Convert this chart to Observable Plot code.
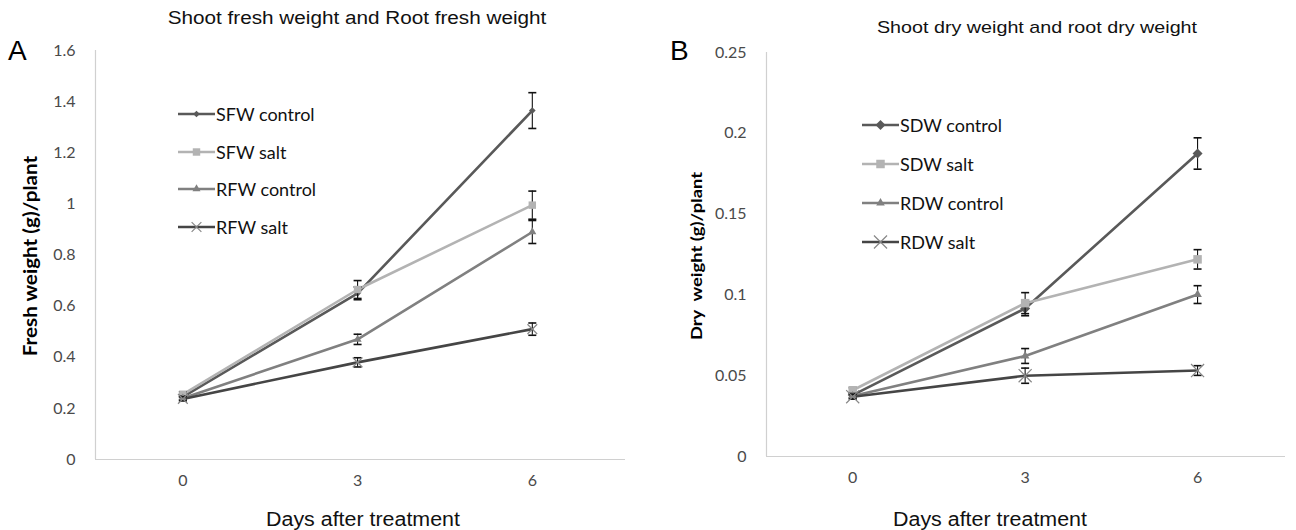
<!DOCTYPE html>
<html>
<head>
<meta charset="utf-8">
<script src="https://cdn.jsdelivr.net/npm/d3@7"></script>
<script src="https://cdn.jsdelivr.net/npm/@observablehq/plot@0.6"></script>
<style>
  body { margin: 0; background: #fff; }
  #root { position: relative; width: 1296px; height: 530px; overflow: hidden; background: #fff; }
  .panel { position: absolute; top: 0; }
  .abs { position: absolute; white-space: nowrap; }
  .title { font-family: "Liberation Sans", Arial, sans-serif; color: #111; }
  .letter { font-family: "Liberation Sans", Arial, sans-serif; font-size: 28px; color: #000; }
  .xlab { font-family: "Liberation Sans", Arial, sans-serif; font-size: 20px; color: #111; transform: translateX(-50%) scaleX(1.07); }
  .ylab { font-family: "Lato", "Open Sans", sans-serif; font-weight: bold; color: #000; }
  .leg { font-family: "Lato", "Open Sans", sans-serif; font-size: 18px; color: #111; display: flex; align-items: center; }
</style>
</head>
<body>
<div id="root"></div>
<script>
// ---- Data ----
const days = [0, 3, 6];
const xTicks = [0, 3, 6];

// Panel A: fresh weight (g)/plant
const seriesA = ["SFW control", "SFW salt", "RFW control", "RFW salt"];
const sfwControl = [0.245, 0.65, 1.365];
const sfwControlErr = [0.01, 0.025, 0.07];
const sfwSalt = [0.255, 0.665, 0.995];
const sfwSaltErr = [0.01, 0.035, 0.055];
const rfwControl = [0.24, 0.47, 0.89];
const rfwControlErr = [0.008, 0.02, 0.045];
const rfwSalt = [0.237, 0.38, 0.51];
const rfwSaltErr = [0.008, 0.018, 0.024];
const yTicksA = [0, 0.2, 0.4, 0.6, 0.8, 1, 1.2, 1.4, 1.6];

// Panel B: dry weight (g)/plant
const seriesB = ["SDW control", "SDW salt", "RDW control", "RDW salt"];
const sdwControl = [0.038, 0.0916, 0.1875];
const sdwControlErr = [0.0015, 0.0045, 0.0097];
const sdwSalt = [0.041, 0.0949, 0.122];
const sdwSaltErr = [0.0015, 0.0065, 0.006];
const rdwControl = [0.0375, 0.0622, 0.1002];
const rdwControlErr = [0.0015, 0.0046, 0.0055];
const rdwSalt = [0.037, 0.050, 0.0532];
const rdwSaltErr = [0.0015, 0.0047, 0.003];
const yTicksB = [0, 0.05, 0.1, 0.15, 0.2, 0.25];

// ---- Styles ----
const colorsA = ["#595959", "#b3b3b3", "#808080", "#454545"];
const symbols = ["diamond2", "square", "triangle", "times"];

function rows(names, vals, errs) {
  const out = [];
  names.forEach((s, i) => days.forEach((d, j) => out.push({series: s, day: d, v: vals[i][j], lo: vals[i][j] - errs[i][j], hi: vals[i][j] + errs[i][j]})));
  return out;
}

const capSymbol = {draw(ctx, size) { const w = 4; ctx.moveTo(-w, 0); ctx.lineTo(w, 0); }};

function panel(opts) {
  const data = rows(opts.series, opts.vals, opts.errs);
  const marks = [
    Plot.ruleY([0], {stroke: "#d0d0d0", strokeWidth: 1.2}),
    Plot.ruleX([opts.xdomain[0]], {stroke: "#d0d0d0", strokeWidth: 1.2}),
  ];
  opts.series.forEach((s, i) => {
    const d = data.filter(r => r.series === s);
    marks.push(Plot.line(d, {x: "day", y: "v", stroke: opts.colors[i], strokeWidth: 2.6}));
  });
  opts.series.forEach((s, i) => {
    const d = data.filter(r => r.series === s);
    marks.push(Plot.ruleX(d, {x: "day", y1: "lo", y2: "hi", stroke: "#111", strokeWidth: 1.1}));
    marks.push(Plot.dot(d, {x: "day", y: "lo", symbol: capSymbol, stroke: "#111", strokeWidth: 1.6, r: 3}));
    marks.push(Plot.dot(d, {x: "day", y: "hi", symbol: capSymbol, stroke: "#111", strokeWidth: 1.6, r: 3}));
    const sym = symbols[i];
    const isStroke = sym === "times";
    marks.push(Plot.dot(d, {x: "day", y: "v", symbol: sym, r: opts.sizes[i],
      fill: isStroke ? "none" : opts.colors[i], stroke: isStroke ? "#888" : "none", strokeWidth: 1.2}));
  });
  return Plot.plot({
    width: 648, height: 530,
    marginLeft: opts.ml, marginRight: opts.mr, marginTop: opts.mt, marginBottom: opts.mb,
    x: {domain: opts.xdomain, ticks: xTicks, tickSize: 0, tickPadding: 15, label: null, tickFormat: d => String(d)},
    y: {domain: opts.ydomain, ticks: opts.yticks, tickSize: 0, tickPadding: opts.tp, label: null, tickFormat: d => String(+d.toFixed(3))},
    style: {fontFamily: "Lato, 'Open Sans', sans-serif", fontSize: "16px", color: "#4a4a4a", background: "#fff"},
    marks
  });
}

const root = document.getElementById("root");

function addPanel(left, plot) {
  const div = document.createElement("div");
  div.className = "panel";
  div.style.left = left + "px";
  div.appendChild(plot);
  root.appendChild(div);
}

addPanel(0, panel({series: seriesA, vals: [sfwControl, sfwSalt, rfwControl, rfwSalt],
  errs: [sfwControlErr, sfwSaltErr, rfwControlErr, rfwSaltErr], colors: colorsA, sizes: [3, 4.2, 3, 4.5],
  ml: 95, mr: 23, mt: 50, mb: 71, xdomain: [-1.5, 7.6], ydomain: [0, 1.6], yticks: yTicksA, tp: 20}));

addPanel(648, panel({series: seriesB, vals: [sdwControl, sdwSalt, rdwControl, rdwSalt],
  errs: [sdwControlErr, sdwSaltErr, rdwControlErr, rdwSaltErr], colors: colorsA, sizes: [4.5, 4.8, 3.2, 6],
  ml: 118, mr: 11, mt: 52, mb: 74, xdomain: [-1.5, 7.53], ydomain: [0, 0.25], yticks: yTicksB, tp: 20}));

function addText(cls, text, x, y, extra) {
  const el = document.createElement("div");
  el.className = "abs " + cls;
  el.textContent = text;
  el.style.left = x + "px";
  el.style.top = y + "px";
  if (extra) Object.assign(el.style, extra);
  root.appendChild(el);
}

addText("title", "Shoot fresh weight and Root fresh weight", 357, 8, {fontSize: "18px", transform: "translateX(-50%) scaleX(1.15)"});
addText("title", "Shoot dry weight and root dry weight", 1037, 18, {fontSize: "17px", transform: "translateX(-50%) scaleX(1.16)"});
addText("letter", "A", 8, 35);
addText("letter", "B", 670, 35);
addText("xlab", "Days after treatment", 363, 508);
addText("xlab", "Days after treatment", 990, 508);
addText("ylab", "Fresh weight (g)/plant", 30, 256, {fontSize: "18px", transform: "translate(-50%, -50%) rotate(-90deg) scaleX(1.15)"});
addText("ylab", "Dry  weight (g)/plant", 695, 256, {fontSize: "16px", whiteSpace: "pre", transform: "translate(-50%, -50%) rotate(-90deg) scaleX(1.15)"});

function addLegend(names, colors, sizes, x, ys) {
  names.forEach((n, i) => {
    const el = document.createElement("div");
    el.className = "abs leg";
    el.style.left = x + "px";
    el.style.top = (ys[i] - 12) + "px";
    el.style.height = "24px";
    const ns = "http://www.w3.org/2000/svg";
    const svg = document.createElementNS(ns, "svg");
    svg.setAttribute("width", 37); svg.setAttribute("height", 24);
    const line = document.createElementNS(ns, "line");
    line.setAttribute("x1", 0); line.setAttribute("x2", 37); line.setAttribute("y1", 12); line.setAttribute("y2", 12);
    line.setAttribute("stroke", colors[i]); line.setAttribute("stroke-width", 2.6);
    svg.appendChild(line);
    const symMap = {diamond2: d3.symbolDiamond2, square: d3.symbolSquare, triangle: d3.symbolTriangle, times: d3.symbolTimes};
    const p = document.createElementNS(ns, "path");
    p.setAttribute("d", d3.symbol(symMap[symbols[i]], Math.PI * sizes[i] * sizes[i])());
    p.setAttribute("transform", "translate(18.5,12)");
    if (symbols[i] === "times") { p.setAttribute("fill", "none"); p.setAttribute("stroke", "#888"); p.setAttribute("stroke-width", 1.2); }
    else p.setAttribute("fill", colors[i]);
    svg.appendChild(p);
    el.appendChild(svg);
    const t = document.createElement("span");
    t.textContent = n;
    t.style.marginLeft = "1px";
    el.appendChild(t);
    root.appendChild(el);
  });
}

addLegend(seriesA, colorsA, [3, 4.2, 3, 4.5], 178, [114, 152, 189, 227]);
addLegend(seriesB, colorsA, [4.5, 4.8, 3.2, 6], 862, [125, 164, 203, 242]);
</script>
</body>
</html>
